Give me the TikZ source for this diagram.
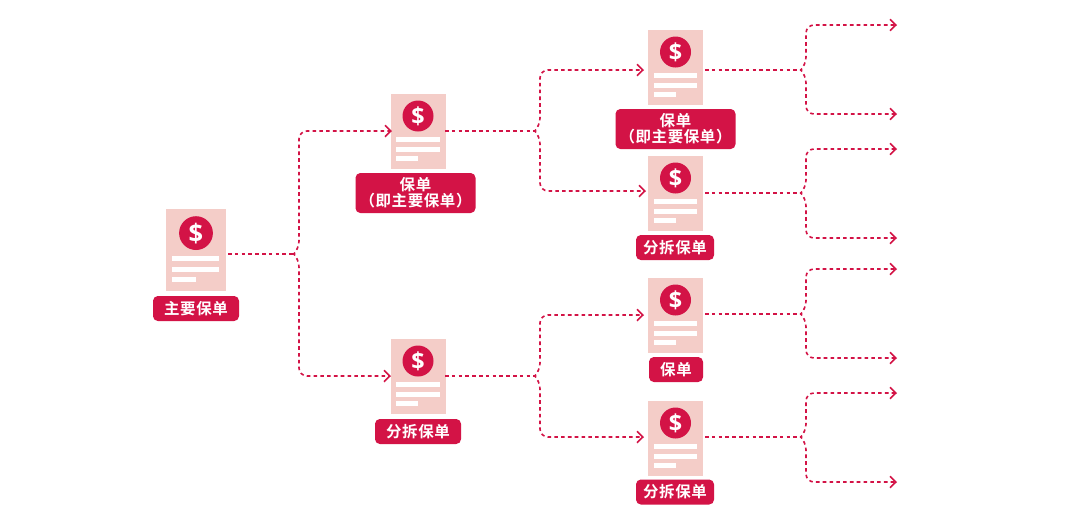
\documentclass[tikz,border=0pt]{standalone}
\usepackage{fontspec}
\setmainfont{Noto Sans CJK SC}[BoldFont={Noto Sans CJK SC Bold},LetterSpace=4]
\newfontfamily\dollarfont{Open Sans}
\usetikzlibrary{arrows.meta}
\definecolor{mainred}{HTML}{D31346}
\definecolor{pagepink}{HTML}{F4CDC8}
\tikzset{
  docpage/.style={fill=pagepink,draw=none,rectangle,inner sep=0pt,minimum width=41.25pt,minimum height=56.25pt},
  coin/.style={fill=mainred,draw=none,circle,inner sep=0pt,minimum size=23.25pt,text=white,font=\dollarfont\bfseries\fontsize{17.5}{17.5}\selectfont},
  tagbox/.style={fill=mainred,draw=none,rectangle,rounded corners=3.6pt,inner sep=0pt,text=white,align=center,font=\bfseries\fontsize{11.6}{12}\selectfont},
  link/.style={draw=mainred,line width=1.2pt,dash pattern=on 2.7pt off 2.4pt,rounded corners=6pt},
  linkarrow/.style={link,-{Straight Barb[length=4.4pt,width=8.6pt,line width=1.2pt]}}
}
\newcommand{\receipt}[4]{%name, cx, cy, scale
  \begin{scope}[shift={(#2,#3)},scale=#4,transform shape]
    \node[docpage] (#1) at (0,0) {};
    \node[coin] (#1c) at (0,-15.5) {\$};
    \fill[white] (-22,5.5) rectangle (21.5,10.5);
    \fill[white] (-22,15.5) rectangle (21.5,20.5);
    \fill[white] (-22,24.5) rectangle (0,29.5);
  \end{scope}}
\newcommand{\forkto}[4]{%start, junction, upper, lower
  \draw[link] (#1) -- (#2);
  \draw[linkarrow] (#2) -- ++(5,-5) |- (#3);
  \draw[linkarrow] (#2) -- ++(5,5) |- (#4);}
\newcommand{\tagat}[6]{%name, cx, cy, w, h, text
  \node[tagbox,minimum width=#4*0.75pt,minimum height=#5*0.75pt] (#1) at (#2,#3) {#6};}
\begin{document}
\begin{tikzpicture}[x=0.75pt,y=-0.75pt]
\useasboundingbox (0,0) rectangle (1080,526);
\fill[white] (0,0) rectangle (1080,526);
\receipt{d0}{196}{250}{1.09}
\receipt{d1}{418}{131.5}{1}
\receipt{d2}{418}{376.5}{1}
\receipt{d3}{675.5}{67.5}{1}
\receipt{d4}{675.5}{193.5}{1}
\receipt{d5}{675.5}{315.5}{1}
\receipt{d6}{675.5}{438.5}{1}
\tagat{t0}{196}{308.5}{86}{25}{主要保单}
\tagat{t1}{415.5}{193}{120}{40}{保单\\（即主要保单）}
\tagat{t2}{418}{431.5}{86}{25}{分拆保单}
\tagat{t3}{675.5}{129}{120}{40}{保单\\（即主要保单）}
\tagat{t4}{675}{247.5}{78}{25}{分拆保单}
\tagat{t5}{676}{369.5}{54}{25}{保单}
\tagat{t6}{675}{492}{78}{25}{分拆保单}
% level 1
\coordinate (s0) at (228,254); \coordinate (j0) at (294,254);
\coordinate (i1) at (392,131); \coordinate (i2) at (391,376);
\forkto{s0}{j0}{i1}{i2}
% level 2
\coordinate (s1) at (445,131); \coordinate (j1) at (535,131);
\coordinate (i3) at (644,70); \coordinate (i4) at (646,191);
\forkto{s1}{j1}{i3}{i4}
\coordinate (s2) at (445,376); \coordinate (j2) at (535,376);
\coordinate (i5) at (644,315); \coordinate (i6) at (644,437);
\forkto{s2}{j2}{i5}{i6}
% level 3
\coordinate (s3) at (705,70); \coordinate (j3) at (801,70);
\coordinate (e1) at (897,25); \coordinate (e2) at (897,114);
\forkto{s3}{j3}{e1}{e2}
\coordinate (s4) at (705,193); \coordinate (j4) at (801,193);
\coordinate (e3) at (897,149); \coordinate (e4) at (897,238);
\forkto{s4}{j4}{e3}{e4}
\coordinate (s5) at (705,314); \coordinate (j5) at (801,314);
\coordinate (e5) at (897,269); \coordinate (e6) at (897,358);
\forkto{s5}{j5}{e5}{e6}
\coordinate (s6) at (705,437); \coordinate (j6) at (801,437);
\coordinate (e7) at (897,393); \coordinate (e8) at (897,482);
\forkto{s6}{j6}{e7}{e8}
\end{tikzpicture}
\end{document}
